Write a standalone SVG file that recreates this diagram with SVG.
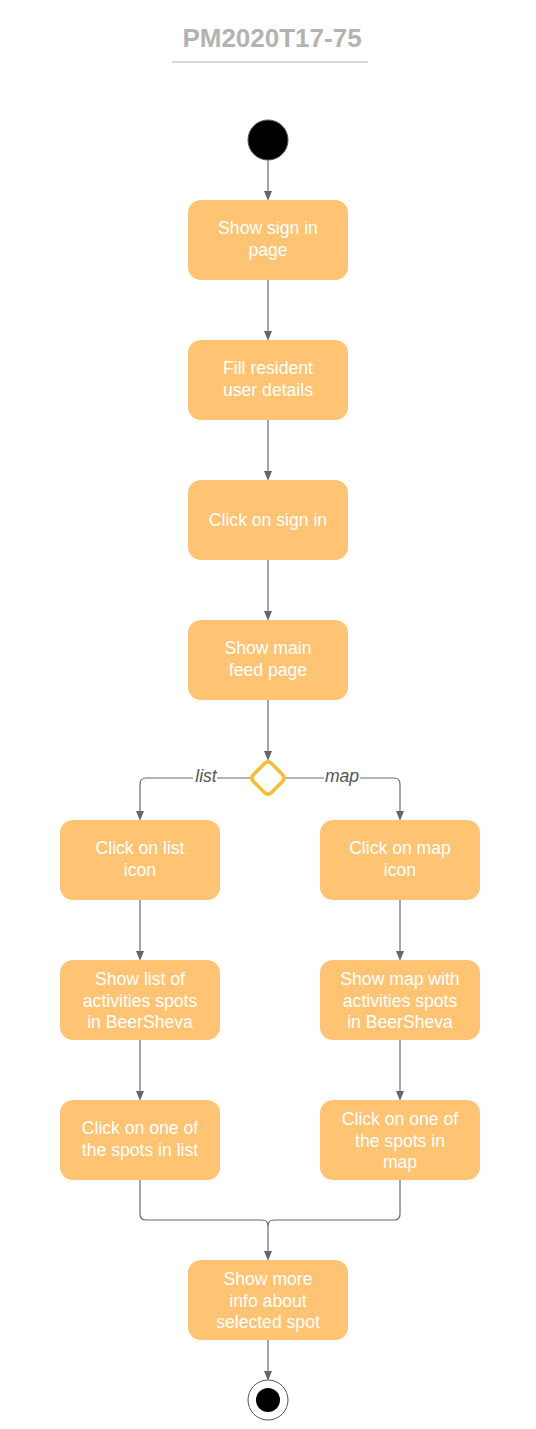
<svg xmlns="http://www.w3.org/2000/svg" width="536" height="1429" viewBox="0 0 536 1429">
<defs>
<marker id="arr" markerWidth="10" markerHeight="12" refX="10" refY="5" orient="auto" markerUnits="userSpaceOnUse" viewBox="0 0 12 10">
<path d="M0,0 L12,5 L0,10 Z" fill="#666666"/>
</marker>
</defs>
<style>
.node rect{fill:#ffc374;}
.node text{fill:#ffffff;font-family:"Liberation Sans",Arial,sans-serif;font-size:17.6px;text-anchor:middle;}
.edge{fill:none;stroke:#6b6b6b;stroke-width:1.2;}
.lbl{fill:#555555;font-family:"Liberation Sans",Arial,sans-serif;font-size:17.6px;font-style:italic;text-anchor:middle;}
</style>
<rect width="536" height="1429" fill="#ffffff"/>
<g id="title">
<text x="272" y="47" fill="#b3b3b3" font-family="'Liberation Sans',Arial,sans-serif" font-size="26" font-weight="bold" text-anchor="middle">PM2020T17-75</text>
<line x1="172" y1="62" x2="368" y2="62" stroke="#b3b3b3" stroke-width="1.2"/>
</g>
<g id="connectors">
<line class="edge" x1="268" y1="160" x2="268" y2="199" marker-end="url(#arr)"/>
<line class="edge" x1="268" y1="280" x2="268" y2="339" marker-end="url(#arr)"/>
<line class="edge" x1="268" y1="420" x2="268" y2="479" marker-end="url(#arr)"/>
<line class="edge" x1="268" y1="560" x2="268" y2="619" marker-end="url(#arr)"/>
<line class="edge" x1="268" y1="700" x2="268" y2="759" marker-end="url(#arr)"/>
<path class="edge" d="M250,778 H146 Q140,778 140,784 V819" marker-end="url(#arr)"/>
<path class="edge" d="M286,778 H394 Q400,778 400,784 V819" marker-end="url(#arr)"/>
<line class="edge" x1="140" y1="900" x2="140" y2="959" marker-end="url(#arr)"/>
<line class="edge" x1="400" y1="900" x2="400" y2="959" marker-end="url(#arr)"/>
<line class="edge" x1="140" y1="1040" x2="140" y2="1099" marker-end="url(#arr)"/>
<line class="edge" x1="400" y1="1040" x2="400" y2="1099" marker-end="url(#arr)"/>
<path class="edge" d="M140,1180 V1214 Q140,1220 146,1220 H262 Q268,1220 268,1226"/>
<path class="edge" d="M400,1180 V1214 Q400,1220 394,1220 H274 Q268,1220 268,1226"/>
<line class="edge" x1="268" y1="1226" x2="268" y2="1259" marker-end="url(#arr)"/>
<line class="edge" x1="268" y1="1340" x2="268" y2="1379" marker-end="url(#arr)"/>
<rect x="193" y="766" width="24" height="22" fill="#ffffff"/>
<text class="lbl" x="206" y="782">list</text>
<rect x="324" y="766" width="36" height="22" fill="#ffffff"/>
<text class="lbl" x="342" y="782">map</text>
</g>
<g id="start">
<circle cx="268" cy="140" r="20" fill="#000000" stroke="#555555" stroke-width="1"/>
</g>
<g id="n1" class="node"><rect x="188" y="200" width="160" height="80" rx="13"/><text x="268" y="234">Show sign in</text><text x="268" y="255.5">page</text></g>
<g id="n2" class="node"><rect x="188" y="340" width="160" height="80" rx="13"/><text x="268" y="374">Fill resident</text><text x="268" y="395.5">user details</text></g>
<g id="n3" class="node"><rect x="188" y="480" width="160" height="80" rx="13"/><text x="268" y="525.5">Click on sign in</text></g>
<g id="n4" class="node"><rect x="188" y="620" width="160" height="80" rx="13"/><text x="268" y="654">Show main</text><text x="268" y="675.5">feed page</text></g>
<g id="decision">
<path d="M264.5,763.5 Q268,760 271.5,763.5 L282.5,774.5 Q286,778 282.5,781.5 L271.5,792.5 Q268,796 264.5,792.5 L253.5,781.5 Q250,778 253.5,774.5 Z" fill="#ffffff" stroke="#f5bd33" stroke-width="3.5"/>
</g>
<g id="n5" class="node"><rect x="60" y="820" width="160" height="80" rx="13"/><text x="140" y="854">Click on list</text><text x="140" y="875.5">icon</text></g>
<g id="n6" class="node"><rect x="320" y="820" width="160" height="80" rx="13"/><text x="400" y="854">Click on map</text><text x="400" y="875.5">icon</text></g>
<g id="n7" class="node"><rect x="60" y="960" width="160" height="80" rx="13"/><text x="140" y="985">Show list of</text><text x="140" y="1006.5">activities spots</text><text x="140" y="1028">in BeerSheva</text></g>
<g id="n8" class="node"><rect x="320" y="960" width="160" height="80" rx="13"/><text x="400" y="985">Show map with</text><text x="400" y="1006.5">activities spots</text><text x="400" y="1028">in BeerSheva</text></g>
<g id="n9" class="node"><rect x="60" y="1100" width="160" height="80" rx="13"/><text x="140" y="1134">Click on one of</text><text x="140" y="1155.5">the spots in list</text></g>
<g id="n10" class="node"><rect x="320" y="1100" width="160" height="80" rx="13"/><text x="400" y="1125">Click on one of</text><text x="400" y="1146.5">the spots in</text><text x="400" y="1168">map</text></g>
<g id="n11" class="node"><rect x="188" y="1260" width="160" height="80" rx="13"/><text x="268" y="1285">Show more</text><text x="268" y="1306.5">info about</text><text x="268" y="1328">selected spot</text></g>
<g id="end">
<circle cx="268" cy="1400" r="20" fill="#ffffff" stroke="#555555" stroke-width="1"/>
<circle cx="268" cy="1400" r="12" fill="#000000"/>
</g>
</svg>
